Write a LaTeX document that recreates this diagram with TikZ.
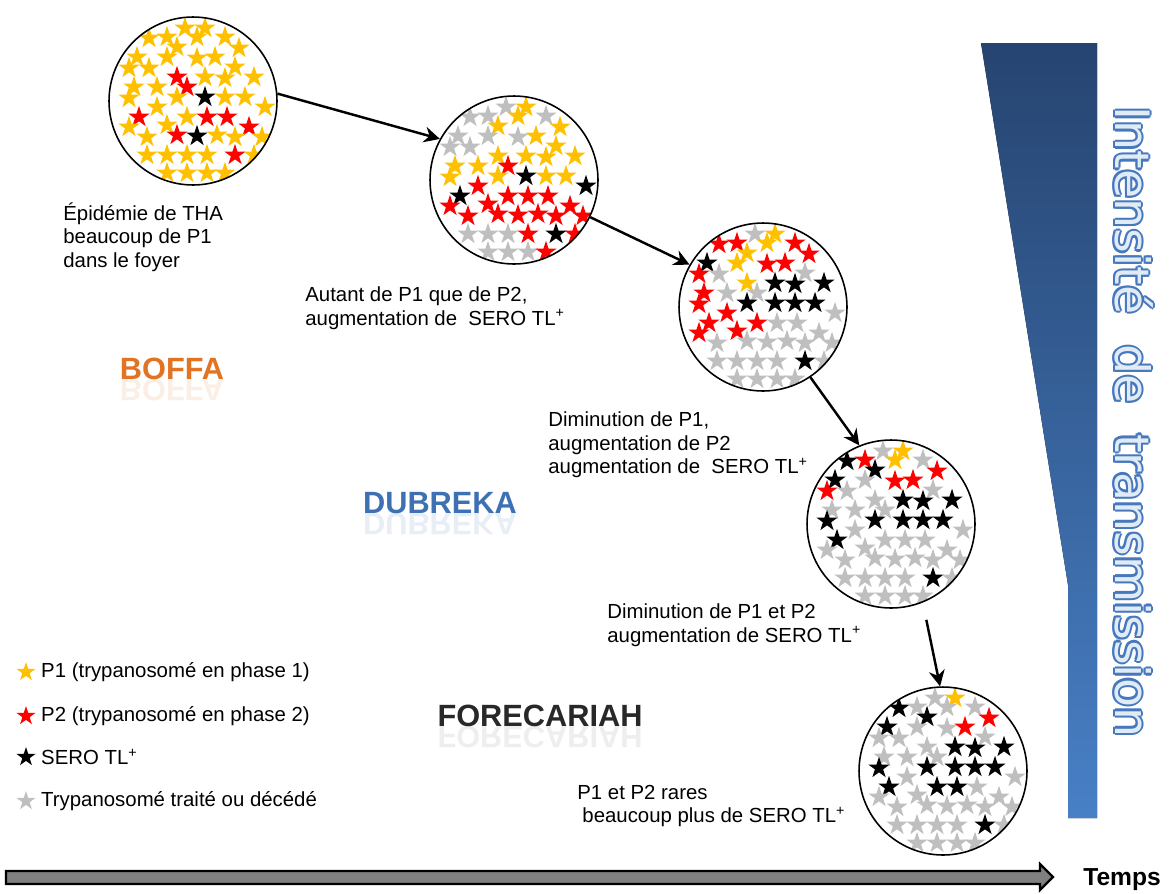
\documentclass[tikz,border=0pt]{standalone}
\usepackage{fontspec}
\setmainfont{Liberation Sans}
\newfontfamily\vertfont{DejaVu Sans}
\usetikzlibrary{shapes.geometric,arrows.meta,positioning}

\definecolor{starY}{RGB}{255,192,0}
\definecolor{starR}{RGB}{255,0,0}
\definecolor{starK}{RGB}{0,0,0}
\definecolor{starG}{RGB}{191,191,191}
\definecolor{boffaC}{RGB}{226,115,35}
\definecolor{dubrekaC}{RGB}{62,112,180}
\definecolor{foreC}{RGB}{40,40,40}
\definecolor{barTop}{RGB}{38,68,112}
\definecolor{barBot}{RGB}{72,128,198}
\definecolor{vOut}{RGB}{70,120,190}
\definecolor{vIn}{RGB}{225,235,246}
\definecolor{timeC}{RGB}{128,128,128}

\tikzset{
  pop/.style={circle, draw, line width=0.9pt, minimum size=3.36cm, inner sep=0pt},
  st/.style={star, star points=5, star point ratio=2.6, inner sep=0pt, minimum size=0.45cm},
  stY/.style={st, fill=starY},
  stR/.style={st, fill=starR},
  stK/.style={st, fill=starK},
  stG/.style={st, fill=starG},
  flow/.style={line width=1.4pt, -{Stealth[length=9pt,width=9pt]}},
  note/.style={align=left, anchor=west, inner sep=0pt, font=\fontsize{11.6}{13.4}\selectfont},
  region/.style={inner sep=0pt, font=\bfseries\fontsize{17.5}{17.5}\selectfont},
  vtext/.style={rotate=-90, inner sep=0pt, font=\vertfont\fontsize{27}{27}\selectfont},
}

% star template: dx/dy then colour in each of the five populations
\newcommand{\starlist}{%
  -8/-73/Y/G/G/G/G, 12/-73/Y/Y/Y/Y/Y, -44/-63/Y/G/R/K/K, -26/-64/Y/G/R/R/G,
  4/-64/Y/Y/Y/Y/G, 32/-64/Y/G/R/G/G, -16/-54/Y/Y/Y/K/K, 46/-53/Y/Y/R/R/R,
  -56/-44/Y/G/K/K/K, -26/-44/Y/G/Y/G/G, 4/-43/Y/G/R/R/G, 22/-44/Y/Y/R/R/R,
  42/-34/Y/Y/G/G/G, -64/-33/Y/G/R/R/G, -44/-33/Y/G/G/G/G, -16/-24/R/Y/Y/G/G,
  -6/-14/R/R/G/G/G, 12/-24/Y/Y/K/K/K, 32/-23/Y/Y/K/K/K, 61/-24/Y/Y/K/K/K,
  -59/-14/Y/Y/R/G/G, -36/-14/Y/Y/G/G/G, 12/-4/K/K/K/K/K, 32/-4/Y/Y/K/K/K,
  52/-4/Y/Y/K/K/K, -64/-3/Y/Y/R/K/K, -16/-4/Y/Y/K/K/K, -36/6/Y/R/R/G/G,
  72/6/Y/K/G/G/G, -54/16/R/K/R/K/K, -6/16/Y/R/R/G/K, 14/16/R/R/G/G/K,
  34/16/R/R/G/G/G, 56/26/R/R/G/G/G, -64/26/Y/R/R/G/G, -26/24/Y/R/R/G/G,
  -16/34/R/R/G/G/G, 4/35/K/R/G/G/G, 24/34/Y/R/G/G/G, 42/36/Y/R/G/G/G,
  69/36/Y/R/G/G/G, -46/36/Y/R/G/G/G, -46/54/Y/G/G/G/G, -26/54/Y/G/G/G/G,
  -6/54/Y/G/G/G/G, 14/54/Y/R/G/G/G, 42/54/R/K/K/K/K, 61/54/Y/R/G/G/G,
  -26/72/Y/G/G/G/G, -6/72/Y/G/G/G/G, 14/72/Y/G/G/G/G, 32/72/Y/R/G/G/G}
\newcommand{\pickstar}[6]{\ifcase#1\or#2\or#3\or#4\or#5\or#6\fi}

\begin{document}
\begin{tikzpicture}[x=0.02cm, y=-0.02cm]
    \useasboundingbox (0,0) rectangle (1172,893);

    % Intensity bar
    \fill[top color=barTop, bottom color=barBot] (981,43) -- (1097,43) -- (1097,818) -- (1068,818) -- (1068,585) -- cycle;
    \foreach \a in {0,45,...,315} {
        \node[vtext, text=vOut, shift={(\a:0.045cm)}] (ic\a) at (1134,422) {Intensité\ \ de\ \ transmission};
    }
    \node[vtext, text=vIn] (intens) at (1134,422) {Intensité\ \ de\ \ transmission};

    % Populations
    \foreach \cx/\cy/\k in {193/101/1, 514/180/2, 763/307/3, 891/524/4, 943/771/5} {
        \begin{scope}[shift={(\cx,\cy)}]
            \clip (0,0) circle[radius=1.68cm];
            \foreach \dx/\dy/\ua/\ub/\uc/\ud/\ue in \starlist {
                \edef\col{\pickstar{\k}{\ua}{\ub}{\uc}{\ud}{\ue}}
                \node[st\col] at (\dx,\dy) {};
            }
        \end{scope}
    }
    \node[pop] (c1) at (193,101) {};
    \node[pop] (c2) at (514,180) {};
    \node[pop] (c3) at (763,307) {};
    \node[pop] (c4) at (891,524) {};
    \node[pop] (c5) at (943,771) {};

    % Connections
    \draw[flow] (c1.5) -- (c2.151);
    \draw[flow] (c2.-26) -- (c3.150);
    \draw[flow] (c3.-56) -- (c4.112);
    \draw[flow, shorten <=10pt] (c4.-68) -- (c5.92);

    % Comments
    \node[note] (t1) at (63,237) {Épidémie de THA\\beaucoup de P1\\dans le foyer};
    \node[note] (t2) at (305,308) {Autant de P1 que de P2,\\augmentation de\ \ SERO TL\textsuperscript{+}};
    \node[note] (t3) at (548,445) {Diminution de P1,\\augmentation de P2\\augmentation de\ \ SERO TL\textsuperscript{+}};
    \node[note] (t4) at (607,625) {Diminution de P1 et P2\\augmentation de SERO TL\textsuperscript{+}};
    \node[note] (t5) at (577,806) {P1 et P2 rares\\\hspace*{0.25em}beaucoup plus de SERO TL\textsuperscript{+}};

    % Regions
    \node[region, text=boffaC] (boffa) at (172,369) {BOFFA};
    \node[region, text=dubrekaC] (dubreka) at (440,503) {DUBREKA};
    \node[region, text=foreC] (forecariah) at (540,716) {FORECARIAH};
    \begin{scope}[shift={(boffa.base)}, yscale=-1]
        \node[region, text=boffaC, opacity=0.12, transform shape, anchor=base] (boffaR) at (0,0) {BOFFA};
    \end{scope}
    \begin{scope}[shift={(dubreka.base)}, yscale=-1]
        \node[region, text=dubrekaC, opacity=0.12, transform shape, anchor=base] (dubrekaR) at (0,0) {DUBREKA};
    \end{scope}
    \begin{scope}[shift={(forecariah.base)}, yscale=-1]
        \node[region, text=foreC, opacity=0.08, transform shape, anchor=base] (forecariahR) at (0,0) {FORECARIAH};
    \end{scope}

    % Legend
    \node[stY, minimum size=0.4cm] (ly) at (26,672) {};
    \node[stR, minimum size=0.4cm] (lr) at (26,716) {};
    \node[stK, minimum size=0.4cm] (lk) at (26,757) {};
    \node[stG, minimum size=0.4cm] (lg) at (26,801) {};
    \node[note, right=0.18cm of ly] (ty) {P1 (trypanosomé en phase 1)};
    \node[note, right=0.18cm of lr] (tr) {P2 (trypanosomé en phase 2)};
    \node[note, right=0.18cm of lk] (tk) {SERO TL\textsuperscript{+}};
    \node[note, right=0.18cm of lg] (tg) {Trypanosomé traité ou décédé};

    % Time axis
    \filldraw[fill=timeC, draw=black, line width=1.3pt] (6,871) -- (1040,871) -- (1040,864) -- (1053,877) -- (1040,890) -- (1040,884) -- (6,884) -- cycle;
    \node[font=\bfseries\fontsize{14}{14}\selectfont] (temps) at (1122,880) {Temps};
\end{tikzpicture}
\end{document}
